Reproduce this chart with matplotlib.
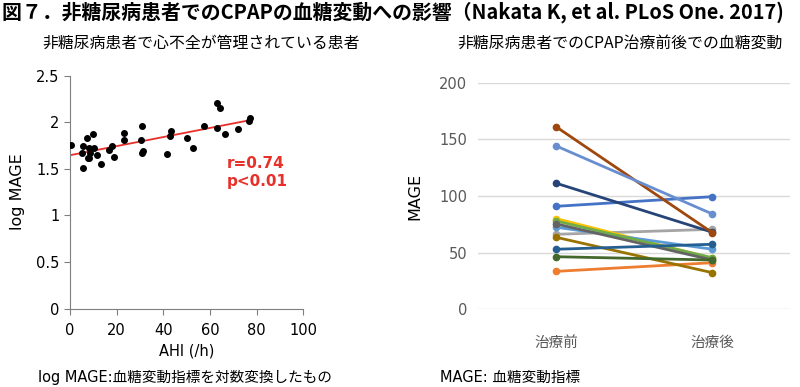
import numpy as np
import matplotlib.pyplot as plt

plt.rcParams['font.family'] = ['DejaVu Sans', 'Noto Sans CJK JP']

# left panel: AHI vs log MAGE
ahi = [0.4, 5.3, 5.7, 5.7, 7.4, 8.0, 7.7, 8.3, 8.7, 9.7, 10.2, 11.7, 13.4,
       16.8, 17.9, 18.9, 23.0, 23.0, 30.7, 30.3, 30.7, 31.2, 41.7, 42.7, 43.3,
       50.1, 52.6, 57.6, 63.0, 64.2, 63.1, 66.3, 72.0, 77.0, 76.9]
log_mage = [1.757, 1.675, 1.746, 1.507, 1.836, 1.722, 1.621, 1.614, 1.675,
            1.875, 1.728, 1.650, 1.554, 1.704, 1.746, 1.632, 1.886, 1.808,
            1.964, 1.808, 1.668, 1.693, 1.664, 1.850, 1.907, 1.829, 1.725,
            1.958, 2.207, 2.157, 1.936, 1.875, 1.925, 2.047, 2.011]

# right panel: MAGE before / after CPAP
phases = ['治療前', '治療後']
mage_pre = [90.9, 33.5, 66.2, 80.0, 72.4, 77.9, 111.2, 160.9, 75.3, 63.5, 53.0, 46.4, 144.1]
mage_post = [99.4, 41.1, 70.6, 45.0, 53.0, 45.5, 68.0, 67.6, 43.5, 32.3, 57.4, 43.5, 84.1]
colors = ['#4472C4', '#ED7D31', '#A5A5A5', '#FFC000', '#5B9BD5', '#70AD47',
          '#264478', '#9E480E', '#636363', '#997300', '#255E91', '#43682B', '#698ED0']

fig = plt.figure(figsize=(8, 3.87), dpi=100)

fig.text(0.002, 0.968, '図７．非糖尿病患者でのCPAPの血糖変動への影響（Nakata K, et al. PLoS One. 2017)',
         family=['Noto Sans CJK JP'], fontsize=14.3, fontweight='bold', va='center', ha='left')

# ---- left scatter
ax1 = fig.add_axes([0.0875, 0.2028, 0.2917, 0.6016])
ax1.scatter(ahi, log_mage, s=16, color='black', zorder=3)
k, b = np.polyfit(ahi, log_mage, 1)
xs = np.array([min(ahi), max(ahi)])
ax1.plot(xs, k * xs + b, color='#E8302A', lw=1.3, zorder=2)
ax1.set_xlim(0, 100)
ax1.set_ylim(0, 2.5)
ax1.set_xticks([0, 20, 40, 60, 80, 100])
ax1.set_yticks([0, 0.5, 1, 1.5, 2, 2.5])
ax1.set_yticklabels(['0', '0.5', '1', '1.5', '2', '2.5'])
for s in ['top', 'right']:
    ax1.spines[s].set_visible(False)
for s in ['left', 'bottom']:
    ax1.spines[s].set_color('#7F7F7F')
ax1.tick_params(colors='#7F7F7F', labelcolor='black', labelsize=10.5, length=4)
ax1.tick_params(axis='x', pad=6.5)
ax1.set_xlabel('AHI (/h)', fontsize=10.5, labelpad=4)
ax1.set_ylabel('log MAGE', fontsize=11.5, labelpad=8)
ax1.text(0.672, 0.605, 'r=0.74', transform=ax1.transAxes, color='#E8302A',
         fontsize=11, fontweight='bold', va='baseline', ha='left')
ax1.text(0.672, 0.527, 'p<0.01', transform=ax1.transAxes, color='#E8302A',
         fontsize=11, fontweight='bold', va='baseline', ha='left')

fig.text(0.251, 0.889, '非糖尿病患者で心不全が管理されている患者', family=['Noto Sans CJK JP'],
         fontsize=11.4, va='center', ha='center')
fig.text(0.047, 0.025, 'log MAGE:血糖変動指標を対数変換したもの', fontsize=10.5,
         va='center', ha='left')

# ---- right before/after
ax2 = fig.add_axes([0.598, 0.2008, 0.39, 0.5855])
for pre, post, c in zip(mage_pre, mage_post, colors):
    ax2.plot([0, 1], [pre, post], color=c, lw=2, marker='o', ms=4.5)
ax2.set_xlim(-0.5, 1.5)
ax2.set_ylim(0, 200)
ax2.set_yticks([0, 50, 100, 150, 200])
ax2.set_xticks([0, 1])
ax2.set_xticklabels(phases, family=['Noto Sans CJK JP'])
ax2.grid(axis='y', color='#D9D9D9', lw=1)
ax2.set_axisbelow(True)
for s in ax2.spines.values():
    s.set_visible(False)
ax2.tick_params(length=0, labelcolor='#595959', labelsize=10.5, pad=8)
ax2.tick_params(axis='x', pad=19)
ax2.set_ylabel('MAGE', fontsize=11.5, labelpad=12)

fig.text(0.775, 0.889, '非糖尿病患者でのCPAP治療前後での血糖変動', family=['Noto Sans CJK JP'],
         fontsize=11.4, va='center', ha='center')
fig.text(0.55, 0.025, 'MAGE: 血糖変動指標', fontsize=10.5, va='center', ha='left')

fig.savefig('out.png', dpi=100)
